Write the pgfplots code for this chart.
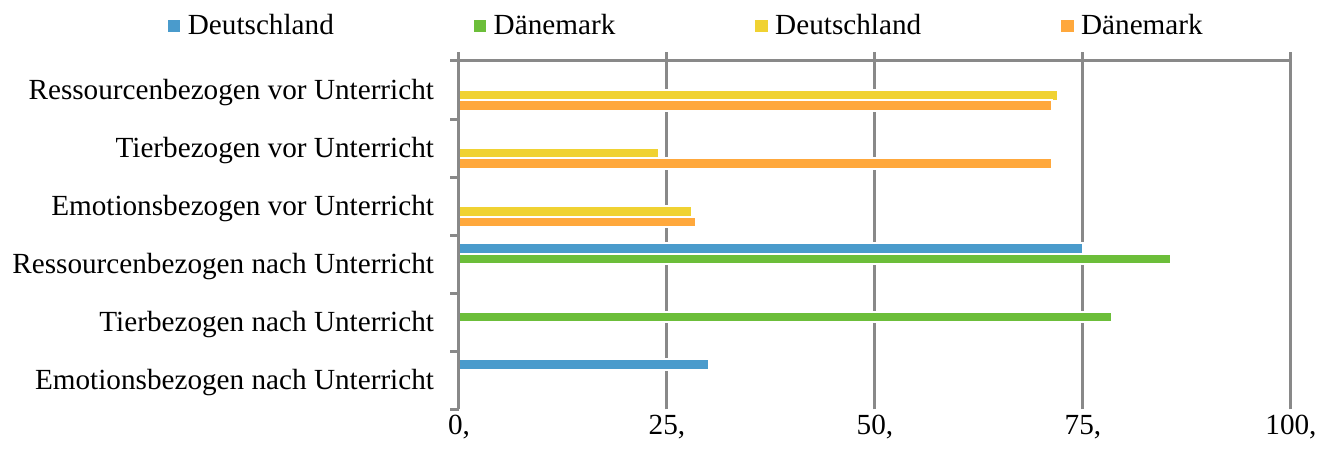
\documentclass[border=0pt]{standalone}
\usepackage{fontspec}
\setmainfont{Liberation Serif}
\usepackage{pgfplots}
\pgfplotsset{compat=1.18}
\definecolor{cblue}{RGB}{74,155,204}
\definecolor{cgreen}{RGB}{108,190,58}
\definecolor{cyellow}{RGB}{240,210,50}
\definecolor{corange}{RGB}{255,168,60}
\definecolor{axisgray}{RGB}{137,137,137}
\begin{document}
\fontsize{14.6pt}{17.5pt}\selectfont
\begin{tikzpicture}
\begin{axis}[
  scale only axis, width=416pt, height=178.65pt,
  xmin=0, xmax=100, ymin=-0.5, ymax=5.655,
  axis x line*=bottom, axis y line*=left,
  x axis line style={draw=none}, y axis line style={draw=none},
  xtick={0,25,50,75,100},
  xticklabels={{0,},{25,},{50,},{75,},{100,}},
  ytick={0,1,2,3,4,5},
  yticklabels={Emotionsbezogen nach Unterricht, Tierbezogen nach Unterricht, Ressourcenbezogen nach Unterricht, Emotionsbezogen vor Unterricht, Tierbezogen vor Unterricht, Ressourcenbezogen vor Unterricht},
  minor ytick={-0.5,0.5,1.5,2.5,3.5,4.5,5.5},
  major tick length=0pt, minor tick length=4.3pt, ytick align=outside,
  minor tick style={draw=axisgray, line width=1.5pt},
  xmajorgrids, major grid style={draw=axisgray, line width=1.5pt},
  xticklabel style={anchor=base, inner sep=0pt, outer sep=0pt, yshift=-12.6pt},
  yticklabel style={anchor=east, inner sep=0pt, outer sep=0pt, xshift=-12.5pt, yshift=-1pt},
  xbar, bar width=0.181,
  every axis plot/.append style={draw=white, line width=1pt},
  legend columns=4,
  legend style={at={(axis description cs:0,1)}, anchor=west, xshift=-145.5pt, yshift=12.95pt,
    draw=none, fill=none, inner sep=0pt, outer sep=0pt,
    nodes={inner sep=0pt, outer sep=0pt},
    /tikz/every odd column/.style={column sep=3.75pt},
    /tikz/every even column/.style={column sep=70pt}},
  legend image code/.code={\path[#1,draw=none] (0pt,-3.1pt) rectangle (6.2pt,3.1pt);},
  clip=false,
]
\addplot[fill=cblue, bar shift=0.27] coordinates {(75,2) (30,0)};
\addlegendentry{Deutschland}
\addplot[fill=cgreen, bar shift=0.09] coordinates {(85.6,2) (78.5,1)};
\addlegendentry{Dänemark}
\addplot[fill=cyellow, bar shift=-0.09] coordinates {(72,5) (24,4) (28,3)};
\addlegendentry{Deutschland}
\addplot[fill=corange, bar shift=-0.27] coordinates {(71.3,5) (71.3,4) (28.5,3)};
\addlegendentry{Dänemark}
\draw[axisgray, line width=1.5pt] (axis cs:0,5.5) -- (axis cs:100,5.5);
\draw[axisgray, line width=1.5pt] (rel axis cs:0,0) -- (rel axis cs:0,1);
\end{axis}
\path (current axis.south west) ++(-229.5pt,-23.85pt) rectangle ++(665pt,228.5pt);
\end{tikzpicture}
\end{document}
